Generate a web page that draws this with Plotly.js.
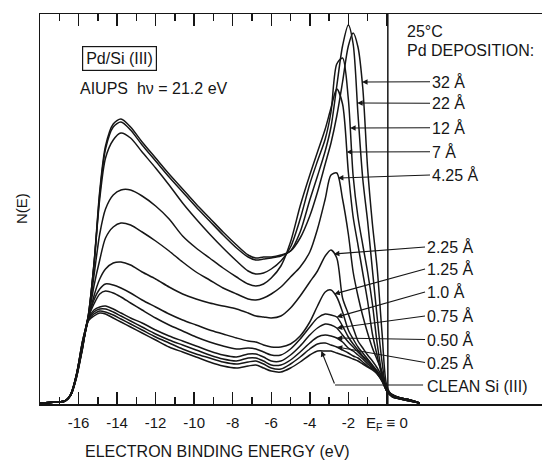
<!DOCTYPE html>
<html><head><meta charset="utf-8">
<script src="https://cdn.plot.ly/plotly-3.0.1.min.js"></script>
<style>html,body{margin:0;padding:0;background:#fff}</style>
</head><body>
<div id="chart" style="width:542px;height:460px"></div>
<script>
// ---- data (binding energy in eV, N(E) in arbitrary units) ----
const energy = [-18.0,-17.2,-16.7,-16.4,-16.1,-15.8,-15.5,-15.2,-14.9,-14.6,-14.2,-13.8,-13.3,-12.7,-12.0,-11.3,-10.6,-9.9,-9.2,-8.5,-7.8,-7.2,-6.8,-6.4,-6.0,-5.5,-5.0,-4.5,-4.0,-3.6,-3.2,-2.9,-2.6,-2.3,-2.0,-1.75,-1.5,-1.25,-1.0,-0.75,-0.5,-0.25,0.0,0.3,0.7,1.2,1.7];
const n32    = [1,2,3,10,30,62,88, 140,213,258,280,285, 277,262,246,230,215, 200,186,172,159,149, 146,147,147,149,153, 166,188,212,240,261, 288,322,358,371,357, 316,236,180,135,71, 18,8,5,3,1];
const n22    = [1,2,3,10,30,62,88, 138,210,255,277,282, 274,259,243,227,212, 197,183,169,156,147, 144,145,146,148,153, 172,204,228,253,277, 318,358,379,360,290, 225,183,134,86,42, 14,7,5,3,1];
const n12    = [1,2,3,10,30,62,87, 140,205,246,264,271, 266,252,236,219,201, 185,170,156,143,133, 130,131,135,143,157, 185,220,243,265,292, 340,346,305,228,187, 159,132,100,60,30, 13,7,5,3,1];
const n7     = [1,2,3,10,30,60,86, 128,170,195,209,214, 214,208,198,185,168, 156,146,136,127,120, 118,120,126,138,162, 198,229,252,275,296, 315,300,232,187,159, 131,103,70,48,28, 13,7,5,3,1];
const n4_25  = [1,2,3,10,30,60,85, 118,144,166,177,181, 179,172,163,153,142, 132,124,116,110,105, 104,106,110,117,127, 137,152,175,205,229, 231,205,170,132,108, 88,71,56,44,32, 14,8,5,3,1];
const n2_25  = [1,2,3,9,29,58,84, 108,125,135,141,142, 139,132,125,117,110, 105,101,98,95,91, 88,87,86,88,96, 108,122,133,148,154, 146,106,90,76,63, 56,49,43,36,27, 14,8,6,4,1];
const n1_25  = [1,2,3,9,29,58,85, 104,115,120,119,116, 111,104,97,90,84, 79,74,70,66,63, 62,59,57,57,60, 68,82,98,112,114, 107,92,74,65,57, 51,45,39,33,25, 13,8,6,4,1];
const n1_0   = [1,2,3,9,28,57,86, 100,110,113,111,107, 101,94,86,79,73, 67,62,58,55,56, 55,52,49,49,55, 65,77,86,90,89, 87,78,67,60,54, 48,44,38,32,25, 14,9,6,4,1];
const n0_75  = [1,2,3,9,28,56,85, 94,97,98,95,91, 86,81,74,68,63, 58,53,49,47,50, 50,47,43,43,49, 58,69,76,80,79, 76,69,62,57,52, 47,42,37,31,24, 14,9,6,4,1];
const n0_50  = [1,2,3,9,28,56,84, 92,95,95,92,88, 83,77,70,64,59, 54,49,45,43,46, 46,43,39,39,44, 52,61,67,69,68, 66,62,56,53,49, 45,40,36,31,24, 13,9,6,4,1];
const n0_25  = [1,2,3,9,27,55,84, 90,93,92,89,85, 80,74,67,61,55, 50,46,42,40,42, 43,40,36,35,40, 47,55,60,61,59, 57,54,51,48,46, 42,38,35,30,23, 13,9,6,4,1];
const nClean = [1,2,3,9,27,55,83, 88,91,90,86,82, 77,71,64,57,52, 47,42,38,36,38, 39,36,33,32,36, 42,49,53,53,53, 51,49,47,45,43, 40,37,34,30,23, 13,8,6,4,1];

const seriesLabels = ['32 Å','22 Å','12 Å','7 Å','4.25 Å','2.25 Å','1.25 Å','1.0 Å','0.75 Å','0.50 Å','0.25 Å','CLEAN Si (III)'];
const tickValues = [-16,-14,-12,-10,-8,-6,-4,-2,0];
const tickLabels = ['-16','-14','-12','-10','-8','-6','-4','-2','E<sub>F</sub> ≡ 0'];
const minorTickValues = [-17,-15,-13,-11,-9,-7,-5,-3,-1];

const series = [n32,n22,n12,n7,n4_25,n2_25,n1_25,n1_0,n0_75,n0_50,n0_25,nClean];

// ---- layout placement (not data) ----
const labelV = [322.3,300.7,276.3,252.3,229,157,135,112,88,64.5,41.5,17.3];
const headV  = [322,301,276,252,226,150,110,87,76,66,57];
const labelLeftUpper = 2.24, labelLeftLower = 1.98;
const cleanHeadE = -3.4, cleanCorner = [-2.69, 19];

function valueAt(xs, ys, x){
  for(let i=0;i<xs.length-1;i++){
    if(x>=xs[i] && x<=xs[i+1]){ const t=(x-xs[i])/(xs[i+1]-xs[i]); return ys[i]+t*(ys[i+1]-ys[i]); }
  }
  return ys[ys.length-1];
}
function flankX(xs, ys, target){
  const start = xs.findIndex(x => x > -5);
  let imax = start;
  for(let i=start;i<xs.length;i++) if(ys[i]>ys[imax]) imax=i;
  for(let i=imax;i<xs.length-1;i++){
    if(ys[i]>=target && ys[i+1]<target) return xs[i]+(ys[i]-target)/(ys[i]-ys[i+1])*(xs[i+1]-xs[i]);
  }
  return xs[imax];
}

const ink = '#161616';
const FONT = 'Liberation Sans, Arial, sans-serif';

const traces = series.map((ys, i) => ({
  x: energy, y: ys, type: 'scatter', mode: 'lines', name: seriesLabels[i],
  line: {color: ink, width: 1.5, shape: 'spline', smoothing: 0.8},
  showlegend: false, hoverinfo: 'skip'
}));

const annotations = [];
for(let i=0;i<11;i++){
  const hx = flankX(energy, series[i], headV[i]);
  annotations.push({
    x: hx, y: valueAt(energy, series[i], hx), xref:'x', yref:'y',
    ax: i<5 ? labelLeftUpper : labelLeftLower, ay: labelV[i], axref:'x', ayref:'y',
    text: seriesLabels[i], xanchor:'left', yanchor:'middle',
    showarrow:true, arrowhead:2, arrowsize:1, arrowwidth:1.1, arrowcolor: ink,
    font:{family:FONT, size:16, color:ink}, borderpad:1
  });
}
// clean Si: bent leader
annotations.push({
  x: cleanHeadE, y: valueAt(energy, nClean, cleanHeadE), xref:'x', yref:'y',
  ax: cleanCorner[0], ay: cleanCorner[1], axref:'x', ayref:'y', text:'',
  showarrow:true, arrowhead:2, arrowsize:1, arrowwidth:1.1, arrowcolor: ink
});
annotations.push({
  x: labelLeftLower, y: labelV[11], xref:'x', yref:'y', text: seriesLabels[11],
  xanchor:'left', yanchor:'middle', showarrow:false, font:{family:FONT, size:16, color:ink}
});
// other texts
annotations.push({x:0.94, y:372.3, xref:'x', yref:'y', text:'25°C', xanchor:'left', yanchor:'middle', showarrow:false, font:{family:FONT, size:16, color:ink}});
annotations.push({x:0.94, y:354, xref:'x', yref:'y', text:'Pd DEPOSITION:', xanchor:'left', yanchor:'middle', showarrow:false, font:{family:FONT, size:16, color:ink}});
annotations.push({x:-13.88, y:345.7, xref:'x', yref:'y', text:'Pd/Si (III)', xanchor:'center', yanchor:'middle', showarrow:false,
  bordercolor: ink, borderwidth:1.2, borderpad:3, font:{family:FONT, size:16, color:ink}});
annotations.push({x:-16.03, y:315.7, xref:'x', yref:'y', text:'AIUPS  hν = 21.2 eV', xanchor:'left', yanchor:'middle', showarrow:false, font:{family:FONT, size:16, color:ink}});
annotations.push({x:0.3536, y:-0.1223, xref:'paper', yref:'paper', text:'ELECTRON BINDING ENERGY (eV)', xanchor:'center', yanchor:'middle', showarrow:false, font:{family:FONT, size:16, color:ink}});
annotations.push({x:-0.0378, y:0.5, xref:'paper', yref:'paper', text:'N(E)', textangle:-90, xanchor:'center', yanchor:'middle', showarrow:false, font:{family:FONT, size:15, color:ink}});

const layout = {
  width:542, height:460, margin:{l:40, r:0, t:14, b:56},
  paper_bgcolor:'#fff', plot_bgcolor:'#fff',
  xaxis:{range:[-18,8.05], showgrid:false, zeroline:false, showline:true, linecolor:ink, linewidth:1.5,
    mirror:'allticks', ticks:'inside', ticklen:12, tickwidth:1.5, tickcolor:ink,
    tickvals: tickValues, ticktext: tickLabels, tickfont:{family:FONT, size:15, color:ink}, ticklabelstandoff:4,
    minor:{tickvals: minorTickValues, ticks:'inside', ticklen:7, tickwidth:1.5, tickcolor:ink, showgrid:false}},
  yaxis:{range:[0,390], showgrid:false, zeroline:false, showline:true, linecolor:ink, linewidth:1.5,
    ticks:'', showticklabels:false},
  shapes:[
    {type:'line', xref:'x', yref:'paper', x0:0.05, x1:0.05, y0:0, y1:1, line:{color:ink, width:1.5}},
    {type:'line', xref:'x', yref:'y', x0:cleanCorner[0], x1:labelLeftLower-0.1, y0:cleanCorner[1], y1:cleanCorner[1], line:{color:ink, width:1.1}}
  ],
  annotations: annotations
};
Plotly.newPlot('chart', traces, layout, {staticPlot:true, displayModeBar:false});
</script>
</body></html>
